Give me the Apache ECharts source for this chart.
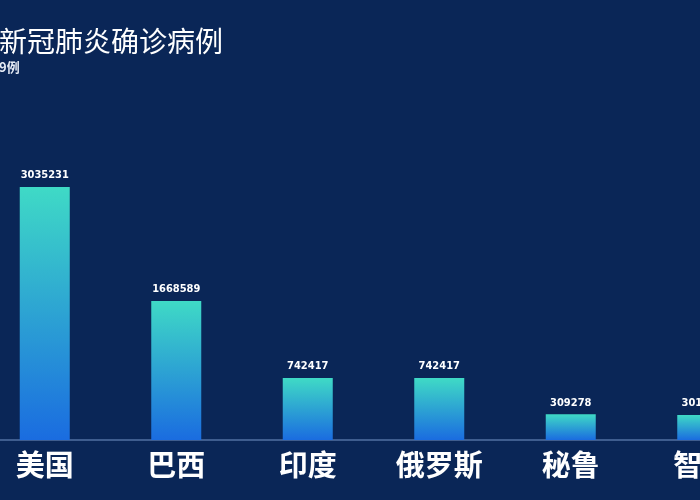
<!DOCTYPE html>
<html lang="zh">
<head>
    <meta charset="UTF-8">
    <title>新冠肺炎确诊病例</title>
    <style>
        * {
            margin: 0;
            padding: 0;
        }

        html, body {
            width: 700px;
            height: 500px;
            background-color: #0a2657;
            overflow: hidden;
            position: relative;
        }

        /* 图表比窗口宽，左右两侧被裁掉 */
        #main {
            position: absolute;
            left: -21px;
            top: 0;
            width: 789px;
            height: 500px;
        }
    </style>
</head>
<body>
    <div id="main"></div>
    <script src="https://cdn.jsdelivr.net/npm/echarts@6/dist/echarts.min.js"></script>
    <script>
        // 数据
        var countries = ['美国', '巴西', '印度', '俄罗斯', '秘鲁', '智利'];
        var cases = [3035231, 1668589, 742417, 742417, 309278, 301019];
        var titleText = '新冠肺炎确诊病例';
        var subText = '9例';

        var chart = echarts.init(document.getElementById('main'));

        var option = {
            backgroundColor: '#0a2657',
            title: {
                text: titleText,
                subtext: subText,
                left: 15,
                top: 22,
                itemGap: 6,
                textStyle: {
                    color: '#ffffff',
                    fontSize: 28,
                    fontWeight: 'normal',
                    fontFamily: 'Noto Sans CJK SC'
                },
                subtextStyle: {
                    color: '#e6ebf5',
                    fontSize: 13,
                    fontWeight: 'bold',
                    fontFamily: 'Noto Sans CJK SC'
                }
            },
            grid: {
                left: 0,
                right: 0,
                top: 106.6,
                bottom: 60,
                containLabel: false
            },
            xAxis: {
                type: 'category',
                data: countries,
                axisTick: { show: false },
                axisLine: {
                    lineStyle: {
                        color: '#3f5d8f',
                        width: 2
                    }
                },
                axisLabel: {
                    color: '#ffffff',
                    fontSize: 29,
                    fontWeight: 'bold',
                    fontFamily: 'Noto Sans CJK SC',
                    margin: 10
                }
            },
            yAxis: {
                type: 'value',
                show: false,
                min: 0,
                max: 4000000,
                splitLine: { show: false }
            },
            series: [{
                type: 'bar',
                data: cases,
                barWidth: 50,
                itemStyle: {
                    color: new echarts.graphic.LinearGradient(0, 0, 0, 1, [
                        { offset: 0, color: '#3fdac6' },
                        { offset: 1, color: '#1a6ce0' }
                    ])
                },
                label: {
                    show: true,
                    position: 'top',
                    distance: 6,
                    color: '#ffffff',
                    fontSize: 11,
                    fontWeight: 'bold',
                    fontFamily: 'DejaVu Sans Condensed'
                }
            }]
        };

        chart.setOption(option);
    </script>
</body>
</html>
